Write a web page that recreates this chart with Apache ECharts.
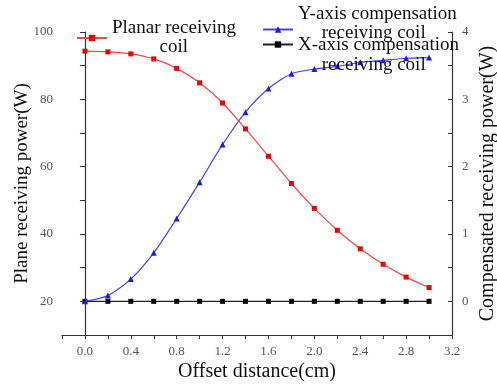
<!DOCTYPE html>
<html>
<head>
<meta charset="utf-8">
<script src="https://cdn.jsdelivr.net/npm/echarts@6/dist/echarts.min.js"></script>
<style>html,body{margin:0;padding:0;background:#fff;}#c{width:497px;height:386px;}</style>
</head>
<body>
<div id="c"></div>
<script>
var offsets = [0.0, 0.2, 0.4, 0.6, 0.8, 1.0, 1.2, 1.4, 1.6, 1.8, 2.0, 2.2, 2.4, 2.6, 2.8, 3.0];
var planarPower = [94.3, 94.1, 93.5, 92.0, 89.2, 84.9, 78.9, 71.2, 63.1, 55.0, 47.6, 41.1, 35.6, 31.0, 27.2, 24.1];
var yAxisCompPower = [0.0, 0.085, 0.33, 0.72, 1.23, 1.77, 2.33, 2.81, 3.16, 3.38, 3.45, 3.49, 3.55, 3.58, 3.61, 3.62];
var xAxisCompPower = [0, 0, 0, 0, 0, 0, 0, 0, 0, 0, 0, 0, 0, 0, 0, 0];
var xTickLabels = [0.0, 0.4, 0.8, 1.2, 1.6, 2.0, 2.4, 2.8, 3.2];
var xTicks = [-0.2, 0.0, 0.2, 0.4, 0.6, 0.8, 1.0, 1.2, 1.4, 1.6, 1.8, 2.0, 2.2, 2.4, 2.6, 2.8, 3.0, 3.2];
var leftTickLabels = [20, 40, 60, 80, 100];
var rightTickLabels = [0, 1, 2, 3, 4];
var names = ['Planar receiving coil', 'Y-axis compensation receiving coil', 'X-axis compensation receiving coil'];

function pairs(xs, ys) { return xs.map(function (x, i) { return [x, ys[i]]; }); }

var serif = '"Liberation Serif", "DejaVu Serif", serif';
var chart = echarts.init(document.getElementById('c'), null, { renderer: 'canvas' });

function legendFor(name, left, top, lh, gap, display) {
  return {
    data: [name], left: left, top: top, padding: 0, itemWidth: 30, itemHeight: 8,
    selectedMode: false,
    formatter: function () { return display; },
    textStyle: {
      fontFamily: serif, fontSize: 19, color: '#111',
      rich: {
        t: { fontFamily: serif, fontSize: 19, color: '#111', lineHeight: lh },
        e: { fontSize: 1, lineHeight: gap, color: 'rgba(0,0,0,0)' }
      }
    }
  };
}

var option = {
  animation: false,
  backgroundColor: '#fff',
  grid: { left: 62, right: 45, top: 32, bottom: 51, containLabel: false, outerBoundsMode: 'none' },
  legend: [
    legendFor(names[0], 76, 19, 19, 1, '{t|Planar receiving}\n{t|          coil}'),
    legendFor(names[1], 262, 5, 19, 11, '{t|Y-axis compensation}\n{t|     receiving coil}\n{e|.}'),
    legendFor(names[2], 262, 24, 20, 22, '{e| }\n{t|X-axis compensation}\n{t|     receiving coil}')
  ],
  xAxis: {
    type: 'value', min: -0.2, max: 3.2, interval: 0.2,
    name: 'Offset distance(cm)', nameLocation: 'middle', nameGap: 27, nameMoveOverlap: false,
    nameTextStyle: { fontFamily: serif, fontSize: 20, color: '#111' },
    axisLine: { show: true, onZero: false, lineStyle: { color: '#333', width: 1.2 } },
    axisTick: { show: true, length: 4, customValues: xTicks, lineStyle: { color: '#333' } },
    axisLabel: { customValues: xTickLabels, formatter: function (v) { return v.toFixed(1); },
      fontFamily: serif, fontSize: 13, color: '#555', margin: 10 },
    splitLine: { show: false }
  },
  yAxis: [
    {
      type: 'value', min: 10, max: 100, interval: 10, position: 'left',
      name: 'Plane receiving power(W)', nameLocation: 'middle', nameGap: 30, nameMoveOverlap: false,
      nameTextStyle: { fontFamily: serif, fontSize: 19, color: '#111' },
      axisLine: { show: true, lineStyle: { color: '#333', width: 1.2 } },
      axisTick: { show: true, length: 5, lineStyle: { color: '#333' } },
      axisLabel: { customValues: leftTickLabels, fontFamily: serif, fontSize: 13, color: '#555', margin: 9 },
      splitLine: { show: false }
    },
    {
      type: 'value', min: -0.5, max: 4, interval: 0.5, position: 'right',
      name: 'Compensated receiving power(W)', nameLocation: 'middle', nameGap: 26, nameMoveOverlap: false,
      nameTextStyle: { fontFamily: serif, fontSize: 20, color: '#111' },
      axisLine: { show: true, lineStyle: { color: '#333', width: 1.2 } },
      axisTick: { show: true, inside: true, length: 4, lineStyle: { color: '#333' } },
      axisLabel: { customValues: rightTickLabels, fontFamily: serif, fontSize: 13, color: '#555', margin: 10 },
      splitLine: { show: false }
    }
  ],
  series: [
    {
      name: names[2], type: 'line', yAxisIndex: 1, data: pairs(offsets, xAxisCompPower),
      symbol: 'rect', symbolSize: 5, lineStyle: { color: '#222', width: 1.2 },
      itemStyle: { color: '#000' }, z: 2
    },
    {
      name: names[1], type: 'line', yAxisIndex: 1, data: pairs(offsets, yAxisCompPower),
      smooth: 0.25, symbol: 'triangle', symbolSize: 6, lineStyle: { color: '#4444ee', width: 1.2 },
      itemStyle: { color: '#1a1aee' }, z: 3
    },
    {
      name: names[0], type: 'line', yAxisIndex: 0, data: pairs(offsets, planarPower),
      smooth: 0.25, symbol: 'rect', symbolSize: 5, lineStyle: { color: '#f04848', width: 1.2 },
      itemStyle: { color: '#ee0000' }, z: 4
    }
  ]
};
chart.setOption(option);
</script>
</body>
</html>
